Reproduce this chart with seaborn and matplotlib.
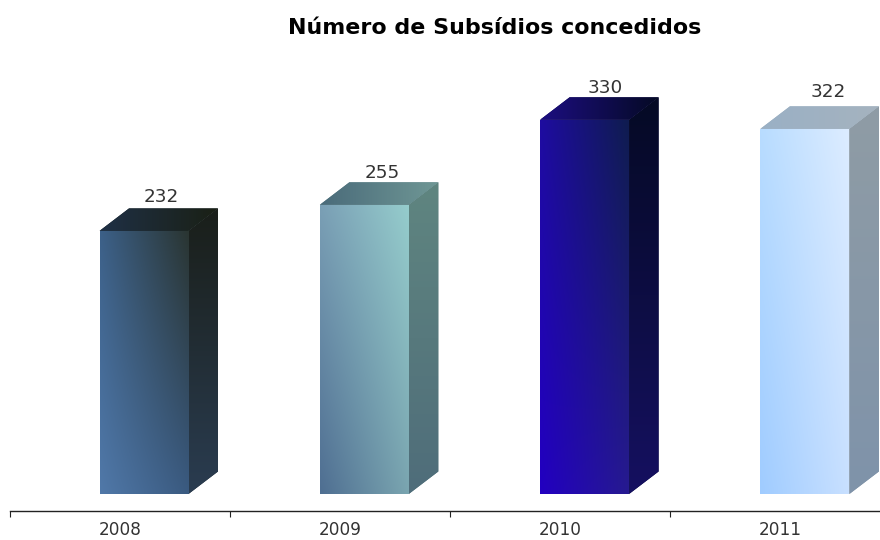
import numpy as np
import pandas as pd
import matplotlib
matplotlib.use("Agg")
import matplotlib.pyplot as plt
from matplotlib.colors import to_rgb
from matplotlib.patches import Polygon
import seaborn as sns

# ---- data ----
years = ["2008", "2009", "2010", "2011"]
subsidies = [232, 255, 330, 322]
title = "Número de Subsídios concedidos"

# ---- styling ----
# front face corners: top-left, top-right, bottom-left, bottom-right
FRONT = [("#3c6088", "#2a3532", "#5078a8", "#3a5a80"),
         ("#7a9fb5", "#95cccc", "#4f6f92", "#7aa5b0"),
         ("#1e0ca0", "#0f1c50", "#2200c0", "#261a90"),
         ("#b8dcff", "#dcecff", "#a0ccff", "#c8e0ff")]
# side face: top, bottom
SIDE = [("#1a1f1a", "#2a3c50"), ("#5f8580", "#4f6d7a"),
        ("#050a25", "#151060"), ("#8f9ca5", "#7f93aa")]
# top face: left, right
TOP = [("#1f3045", "#1a2015"), ("#4a6b7a", "#6f9795"),
       ("#1c0e80", "#050a25"), ("#9ab0c5", "#a5b3bf")]
LABEL_SHIFT = [(17, 13), (18, 11), (21, 11.5), (23, 16.5)]  # px from back top edge centre

W, H = 880, 540
PX_PER_UNIT = 1.134
PX_PER_CAT = 220.3
BASE_Y, FIRST_X = 494, 144
DX, DY = 29.5 / PX_PER_CAT, 22.5 / PX_PER_UNIT

sns.set_theme(style="white")
plt.rcParams["font.family"] = ["DejaVu Sans"]

fig = plt.figure(figsize=(W / 100, H / 100), dpi=100, facecolor="white")
ax = fig.add_axes([0, 0, 1, 1])

df = pd.DataFrame({"year": years, "n": subsidies})
sns.barplot(data=df, x="year", y="n", hue="year", width=89 / PX_PER_CAT,
            palette=[c[0] for c in FRONT], legend=False, ax=ax, saturation=1)
ax.set_xlim(-FIRST_X / PX_PER_CAT, (W - FIRST_X) / PX_PER_CAT)
ax.set_ylim(-(H - BASE_Y) / PX_PER_UNIT, BASE_Y / PX_PER_UNIT)
ax.axis("off")
xlim, ylim = ax.get_xlim(), ax.get_ylim()


def grad(tl, tr, bl, br, n=48):
    tl, tr, bl, br = [np.array(to_rgb(c)) for c in (tl, tr, bl, br)]
    u = np.linspace(0, 1, n)[None, :, None]
    v = np.linspace(0, 1, n)[:, None, None]
    return (1 - v) * ((1 - u) * tl + u * tr) + v * ((1 - u) * bl + u * br)


def face(img, verts, z):
    xs, ys = zip(*verts)
    mean = img.reshape(-1, 3).mean(axis=0)
    ax.add_patch(Polygon(verts, closed=True, fc=mean, ec="none", zorder=z - 0.5))
    im = ax.imshow(img, extent=(min(xs), max(xs), min(ys), max(ys)), origin="upper",
                   aspect="auto", interpolation="bilinear", zorder=z)
    poly = Polygon(verts, closed=True, transform=ax.transData, fc="none", ec="none")
    ax.add_patch(poly)
    im.set_clip_path(poly)


for i, patch in enumerate(list(ax.patches)[:len(years)]):
    x0 = patch.get_x()
    x1 = x0 + patch.get_width()
    h = patch.get_height()
    tl, tr, bl, br = FRONT[i]
    st, sb = SIDE[i]
    tpl, tpr = TOP[i]
    face(grad(st, st, sb, sb), [(x1, 0), (x1 + DX, DY), (x1 + DX, h + DY), (x1, h)], 3)
    face(grad(tpl, tpr, tpl, tpr), [(x0, h), (x1, h), (x1 + DX, h + DY), (x0 + DX, h + DY)], 3)
    face(grad(tl, tr, bl, br), [(x0, 0), (x1, 0), (x1, h), (x0, h)], 4)
    sx, sy = LABEL_SHIFT[i]
    ax.annotate(str(subsidies[i]), xy=((x0 + x1) / 2, h + DY), xytext=(sx, sy),
                textcoords="offset pixels", ha="center", va="center_baseline",
                fontsize=13.2, color="#333333", zorder=5)
ax.set_xlim(xlim)
ax.set_ylim(ylim)

# category axis: ticks on band edges, labels in band centres
ax2 = fig.add_axes([10 / W, (H - 511) / H, 880 / W, 0.0005], facecolor="none")
ax2.set_xlim(0, 4)
ax2.set_yticks([])
for s in ("top", "left", "right"):
    ax2.spines[s].set_visible(False)
ax2.spines["bottom"].set_color("#222222")
ax2.spines["bottom"].set_linewidth(1.0)
ax2.set_xticks(range(5))
ax2.set_xticklabels([])
ax2.set_xticks(np.arange(len(years)) + 0.5, labels=years, minor=True)
ax2.tick_params(axis="x", which="major", length=4.3, width=0.8, color="#222222", bottom=True)
ax2.tick_params(axis="x", which="minor", length=0, pad=7.5, labelsize=12.2, labelcolor="#333333")

fig.text(495 / W, 1 - 28 / H, title, ha="center", va="center",
         fontsize=15.9, fontweight="bold", color="black")

fig.savefig("out.png", dpi=100, facecolor="white")
